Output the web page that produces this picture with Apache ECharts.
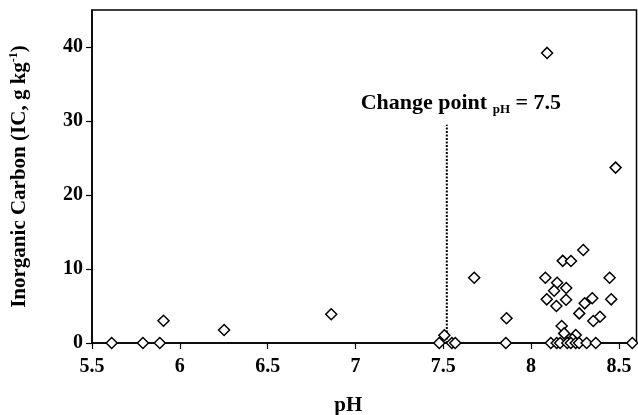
<!DOCTYPE html>
<html>
<head>
<meta charset="utf-8">
<script src="https://cdn.jsdelivr.net/npm/echarts@6/dist/echarts.min.js"></script>
<style>html,body{margin:0;padding:0;background:#fff;}#c{width:638px;height:415px;}</style>
</head>
<body>
<div id="c"></div>
<script>
// pH values (x)
var pH = [5.612, 5.79, 5.886, 5.907, 6.252, 6.862,
  7.477, 7.506, 7.549, 7.568, 7.676, 7.86, 7.856,
  8.091, 8.481, 8.297, 8.18, 8.227, 8.081, 8.447,
  8.148, 8.20, 8.131, 8.089, 8.199, 8.144, 8.456,
  8.348, 8.305, 8.274, 8.392, 8.354, 8.174, 8.188, 8.254, 8.235,
  8.112, 8.146, 8.165, 8.206, 8.226, 8.254, 8.273, 8.316, 8.368, 8.576];
// Inorganic carbon values (y)
var IC = [0, 0, 0, 3.0, 1.76, 3.88,
  0, 1.05, 0, 0, 8.82, 3.34, 0,
  39.2, 23.7, 12.57, 11.1, 11.08, 8.82, 8.82,
  8.15, 7.43, 7.07, 5.9, 5.85, 5.0, 5.9,
  6.04, 5.36, 4.0, 3.55, 2.97, 2.3, 1.3, 1.08, 0.5,
  0, 0, 0, 0, 0, 0, 0, 0, 0, 0];
var xTicks = [5.5, 6, 6.5, 7, 7.5, 8, 8.5];
var yTicks = [0, 10, 20, 30, 40];
var changePoint = [[7.52, 0], [7.52, 29.5]];
var annotationAt = [7.6, 32.4];

var FONT = 'Liberation Serif';
var chart = echarts.init(document.getElementById('c'));
var data = pH.map(function (v, i) { return [v, IC[i]]; });

chart.setOption({
  animation: false,
  grid: { left: 92, right: 1.5, top: 10, bottom: 72, containLabel: false, outerBoundsMode: 'none',
    show: true, borderColor: '#000', borderWidth: 1.5, backgroundColor: 'transparent' },
  xAxis: {
    type: 'value', min: 5.5, max: 8.6, interval: 0.5,
    name: 'pH', nameLocation: 'middle', nameGap: 52,
    nameTextStyle: { fontFamily: FONT, fontWeight: 'bold', fontSize: 21, color: '#000', padding: [0, 32, 0, 0] },
    axisLine: { show: true, onZero: false, lineStyle: { color: '#000', width: 1.5 } },
    axisTick: { show: true, inside: false, length: 6, lineStyle: { color: '#000', width: 1.2 } },
    axisLabel: { fontFamily: FONT, fontWeight: 'bold', fontSize: 20, color: '#000', margin: 14, showMaxLabel: false,
      formatter: function (v) { return xTicks.indexOf(+v.toFixed(2)) >= 0 ? String(+v.toFixed(2)) : ''; } },
    splitLine: { show: false }
  },
  yAxis: {
    type: 'value', min: 0, max: 45, interval: 10,
    name: '{n|Inorganic Carbon (IC, g kg}{s|-1}{n|)}', nameLocation: 'middle', nameGap: 60,
    nameTextStyle: { fontFamily: FONT, fontWeight: 'bold', fontSize: 21, color: '#000',
      rich: {
        n: { fontFamily: FONT, fontWeight: 'bold', fontSize: 21, color: '#000', lineHeight: 24 },
        s: { fontFamily: FONT, fontWeight: 'bold', fontSize: 12, color: '#000', verticalAlign: 'top', lineHeight: 24, padding: [0, 0, 9, 0] }
      } },
    axisLine: { show: true, lineStyle: { color: '#000', width: 1.5 } },
    axisTick: { show: true, inside: false, length: 6, lineStyle: { color: '#000', width: 1.2 } },
    axisLabel: { fontFamily: FONT, fontWeight: 'bold', fontSize: 20, color: '#000', margin: 9, showMaxLabel: false,
      formatter: function (v) { return yTicks.indexOf(v) >= 0 ? String(v) : ''; } },
    splitLine: { show: false }
  },
  series: [
    {
      type: 'scatter', data: data, symbol: 'diamond', symbolSize: 11,
      itemStyle: { color: '#fff', borderColor: '#000', borderWidth: 1.5, opacity: 1 },
      z: 3
    },
    {
      type: 'line', data: changePoint, symbol: 'none', silent: true,
      lineStyle: { color: '#000', width: 2, type: [2, 1.5] }, z: 2
    }
  ]
});

var p = chart.convertToPixel({ gridIndex: 0 }, annotationAt);
chart.setOption({
  graphic: [{
    type: 'text', x: p[0], y: p[1], z: 10,
    style: {
      text: '{a|Change point }{b|pH}{a| = 7.5}',
      align: 'center', verticalAlign: 'middle',
      rich: {
        a: { fontFamily: FONT, fontWeight: 'bold', fontSize: 22, fill: '#000', lineHeight: 26 },
        b: { fontFamily: FONT, fontWeight: 'bold', fontSize: 13, fill: '#000', verticalAlign: 'bottom', lineHeight: 26, padding: [9, 0, 0, 0] }
      }
    }
  }]
});
</script>
</body>
</html>
